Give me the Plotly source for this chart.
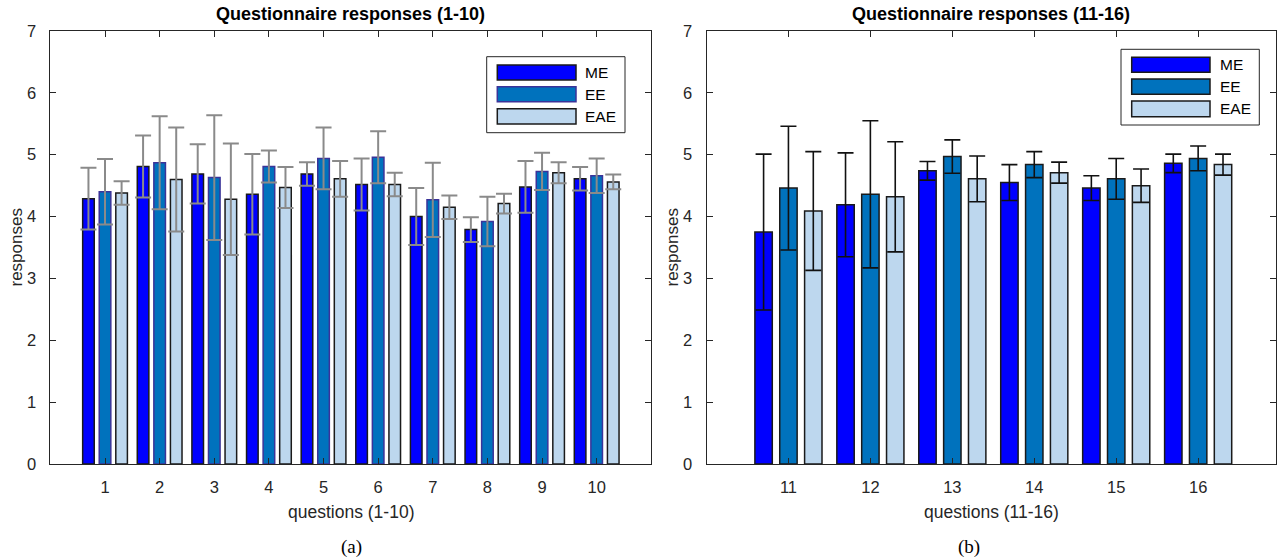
import plotly.graph_objects as go

W, H = 1283, 560

# ---------------- data ----------------
series_names = ["ME", "EE", "EAE"]
colors = ["#0000FF", "#0072BD", "#BDD7EE"]

questions_a = [1, 2, 3, 4, 5, 6, 7, 8, 9, 10]
me_a = [4.29, 4.81, 4.69, 4.36, 4.69, 4.52, 4.00, 3.79, 4.48, 4.61]
me_a_err = [0.50, 0.50, 0.48, 0.65, 0.19, 0.42, 0.46, 0.20, 0.42, 0.19]
ee_a = [4.40, 4.87, 4.63, 4.81, 4.94, 4.96, 4.27, 3.92, 4.73, 4.66]
ee_a_err = [0.53, 0.75, 1.01, 0.26, 0.50, 0.42, 0.60, 0.40, 0.30, 0.28]
eae_a = [4.38, 4.60, 4.28, 4.47, 4.61, 4.52, 4.15, 4.21, 4.71, 4.56]
eae_a_err = [0.19, 0.84, 0.90, 0.33, 0.29, 0.19, 0.19, 0.16, 0.17, 0.12]

questions_b = [11, 12, 13, 14, 15, 16]
me_b = [3.75, 4.19, 4.74, 4.55, 4.46, 4.86]
me_b_err = [1.26, 0.84, 0.15, 0.29, 0.20, 0.15]
ee_b = [4.46, 4.36, 4.97, 4.84, 4.61, 4.94]
ee_b_err = [1.00, 1.19, 0.27, 0.21, 0.33, 0.20]
eae_b = [4.09, 4.32, 4.61, 4.71, 4.50, 4.84]
eae_b_err = [0.96, 0.89, 0.37, 0.17, 0.27, 0.17]

y_ticks = [0, 1, 2, 3, 4, 5, 6, 7]

title_a = "Questionnaire responses (1-10)"
title_b = "Questionnaire responses (11-16)"
xlabel_a = "questions (1-10)"
xlabel_b = "questions (11-16)"
ylabel = "responses"
caption_a = "(a)"
caption_b = "(b)"

# ---------------- helpers ----------------
def px(x):
    return x / W

def py(y):
    return 1 - y / H

FONT = "Liberation Sans, Arial, Helvetica, sans-serif"
AX = "#262626"

fig = go.Figure()

outline_a = ["#1a1a1a", "#3b3399", "#1a1a1a"]
vals_a = [me_a, ee_a, eae_a]
errs_a = [me_a_err, ee_a_err, eae_a_err]
for name, col, oc, v, e in zip(series_names, colors, outline_a, vals_a, errs_a):
    fig.add_trace(go.Bar(
        x=questions_a, y=v, name=name, xaxis="x", yaxis="y",
        marker=dict(color=col, line=dict(color=oc, width=1.5)),
        error_y=dict(type="data", array=e, visible=True, color="#8a8a8a",
                     thickness=2, width=8),
        showlegend=False, hoverinfo="skip",
    ))

vals_b = [me_b, ee_b, eae_b]
errs_b = [me_b_err, ee_b_err, eae_b_err]
for name, col, v, e in zip(series_names, colors, vals_b, errs_b):
    fig.add_trace(go.Bar(
        x=questions_b, y=v, name=name, xaxis="x2", yaxis="y2",
        marker=dict(color=col, line=dict(color="#1a1a1a", width=1.5)),
        error_y=dict(type="data", array=e, visible=True, color="#111111",
                     thickness=1.6, width=8),
        showlegend=False, hoverinfo="skip",
    ))

ydom = [py(464), py(31)]
common_x = dict(showline=True, mirror="ticks", linecolor=AX, linewidth=1,
                ticks="inside", ticklen=6, tickcolor=AX, tickwidth=1,
                showgrid=False, zeroline=False, automargin=False,
                tickfont=dict(family=FONT, size=16.5, color=AX),
                ticklabelstandoff=8)
common_y = dict(showline=True, mirror="ticks", linecolor=AX, linewidth=1,
                ticks="inside", ticklen=6, tickcolor=AX, tickwidth=1,
                showgrid=False, zeroline=False, range=[0, 7], automargin=False,
                tickvals=y_ticks, ticktext=[str(t) for t in y_ticks],
                tickfont=dict(family=FONT, size=16.5, color=AX),
                ticklabelstandoff=10)

fig.update_layout(
    width=W, height=H, autosize=False,
    margin=dict(l=0, r=0, t=0, b=0, pad=0, autoexpand=False),
    paper_bgcolor="white", plot_bgcolor="white",
    barmode="group", bargap=0.09, bargroupgap=0.3,
    showlegend=False,
    xaxis=dict(domain=[px(50.4), px(651.3)], range=[0, 11],
               tickvals=questions_a, ticktext=[str(q) for q in questions_a],
               anchor="y", **common_x),
    yaxis=dict(domain=ydom, anchor="x", **common_y),
    xaxis2=dict(domain=[px(706.5), px(1276)], range=[10, 16.95],
                tickvals=questions_b, ticktext=[str(q) for q in questions_b],
                anchor="y2", **common_x),
    yaxis2=dict(domain=ydom, anchor="x2", **common_y),
)

annotations = []
def txt(x, y, s, size=15, bold=False, family=FONT, xanchor="center", angle=0, color="#000000"):
    annotations.append(dict(
        x=px(x), y=py(y), xref="paper", yref="paper", text=("<b>%s</b>" % s) if bold else s,
        showarrow=False, xanchor=xanchor, yanchor="middle", textangle=angle,
        font=dict(family=family, size=size, color=color)))

# titles
txt(350.9, 14, title_a, size=18, bold=True)
txt(991.2, 14, title_b, size=18, bold=True)
# axis labels
txt(350.9, 512, xlabel_a, size=17.5, color=AX)
txt(991.2, 512, xlabel_b, size=17.5, color=AX)
txt(16, 247.5, ylabel, size=17, angle=-90, color=AX)
txt(672, 247.5, ylabel, size=17, angle=-90, color=AX)
# captions
txt(351, 547, caption_a, size=19, family="Liberation Serif, Times New Roman, serif")
txt(969, 547, caption_b, size=19, family="Liberation Serif, Times New Roman, serif")

shapes = []
def rect(x0, y0, x1, y1, fill, line, lw=1.2):
    shapes.append(dict(type="rect", xref="paper", yref="paper",
                       x0=px(x0), x1=px(x1), y0=py(y1), y1=py(y0),
                       fillcolor=fill, line=dict(color=line, width=lw)))

# legend (a)
rect(486.7, 56.7, 625, 132.7, "white", AX, 1)
leg_a_rows = [(65, 80), (86.7, 101.7), (108.7, 124)]
for (y0, y1), col, oc, name in zip(leg_a_rows, colors, outline_a, series_names):
    rect(497.3, y0, 576, y1, col, oc, 1.5)
    txt(583.3, (y0 + y1) / 2, name, size=15.5, xanchor="left")

# legend (b)
rect(1121, 49.3, 1259.3, 125, "white", AX, 1)
leg_b_rows = [(57.3, 72.3), (79, 94.3), (101, 116.7)]
for (y0, y1), col, name in zip(leg_b_rows, colors, series_names):
    rect(1131.7, y0, 1210, y1, col, "#1a1a1a", 1.5)
    txt(1218.3, (y0 + y1) / 2, name, size=15.5, xanchor="left")

fig.update_layout(annotations=annotations, shapes=shapes)

fig.write_html("out.html",
               config={"displayModeBar": False, "staticPlot": True},
               post_script="document.documentElement.style.margin='0';document.body.style.margin='0';document.body.style.padding='0';document.body.style.overflow='hidden';")
